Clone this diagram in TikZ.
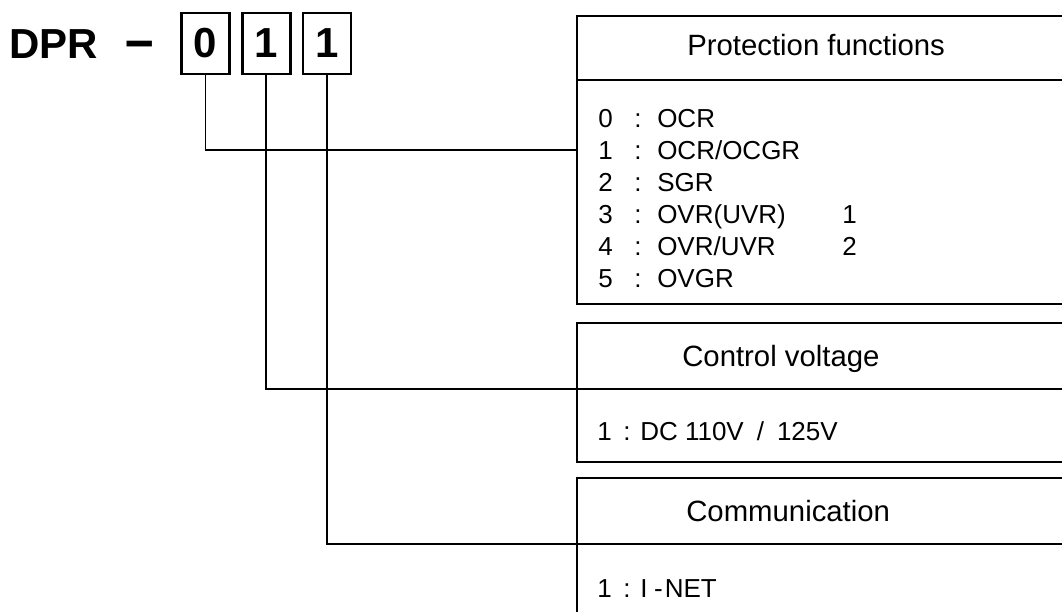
\documentclass[tikz,border=0pt]{standalone}
\usepackage{fontspec}
\setmainfont{Liberation Sans}
\usetikzlibrary{positioning}

\tikzset{
	digitbox/.style={draw, line width=2pt, minimum width=36pt, minimum height=45.75pt, inner sep=0pt, font=\fontsize{31.5}{32}\selectfont\bfseries},
	card/.style={draw, line width=1.5pt, outer sep=0pt, inner sep=0pt, minimum width=390pt},
	headtext/.style={anchor=west, inner sep=0pt, text height=15.8pt, text depth=0pt, font=\fontsize{22}{26}\selectfont},
	item/.style={anchor=base west, inner sep=0pt, font=\fontsize{19.5}{24}\selectfont},
	link/.style={line width=1.4pt}
}

\begin{document}
\begin{tikzpicture}[x=0.75pt, y=-0.75pt]
				\useasboundingbox (0,0) rectangle (1062,611);
				\clip (0,0) rectangle (1062,611);
				% Code
				\node[anchor=base west, inner sep=0pt, font=\fontsize{31.5}{32}\selectfont\bfseries] (dpr) at (9,58) {DPR};
				\node[anchor=base west, inner sep=0pt, font=\fontsize{32}{32}\selectfont\bfseries] (hyph) at (125,59) {\scalebox{1.2}[1.35]{--}};
				\node[digitbox] (d0) at (205.5,43.5) {0};
				\node[digitbox, right=7.5pt of d0] (d1) {1};
				\node[digitbox, right=7.5pt of d1] (d2) {1};
				% Cards
				\node[card, anchor=north west, minimum height=48pt] (protH) at (577,16) {};
				\node[card, below=0pt of protH, minimum height=168pt] (protB) {};
				\node[card, below=14.25pt of protB, minimum height=49.5pt] (voltH) {};
				\node[card, below=0pt of voltH, minimum height=54.75pt] (voltB) {};
				\node[card, below=12pt of voltB, minimum height=49.5pt] (commH) {};
				\node[card, below=0pt of commH, minimum height=75pt] (commB) {};
				% Card titles
				\node[headtext, right=82.5pt of protH.west, yshift=2.25pt] (protT) {Protection functions};
				\node[headtext, right=78.75pt of voltH.west] (voltT) {Control voltage};
				\node[headtext, right=81.75pt of commH.west] (commT) {Communication};
				% Card entries
				\foreach \name [count=\i from 0] in {OCR, OCR/OCGR, SGR, OVR(UVR), OVR/UVR, OVGR}
					\node[item] (r\i) at (598,{127+32*\i}) {\makebox[27pt][l]{\i}\makebox[17.25pt][l]{:}\name};
				\node[item] (e3) at (842,223) {1};
				\node[item] (e4) at (842,255) {2};
				\node[item] (v1) at (597,440) {\makebox[19.5pt][l]{1}\makebox[12.75pt][l]{:}DC 110V\enspace/\enspace125V};
				\node[item] (c1) at (597,597) {\makebox[19.5pt][l]{1}\makebox[12.75pt][l]{:}I\hspace{5pt}-\hspace{1.5pt}NET};
				% Links
				\draw[link] (d0.south) |- (protB.west |- r1.west);
				\draw[link] (d1.south) |- (voltH.south west);
				\draw[link] (d2.south) |- (commH.south west);
			\end{tikzpicture}
\end{document}
